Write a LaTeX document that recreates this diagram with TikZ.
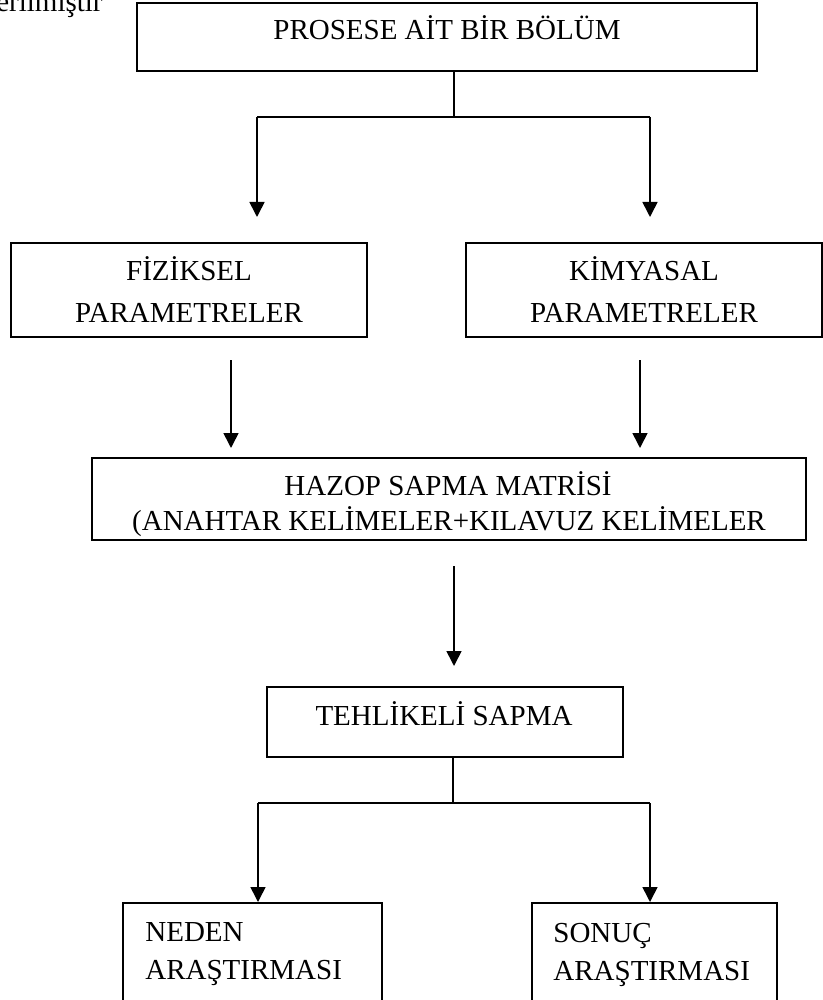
\documentclass[tikz,border=0pt]{standalone}
\usepackage{fontspec}
\setmainfont{Liberation Serif}
\usetikzlibrary{arrows.meta}
\begin{document}
\begin{tikzpicture}[x=0.5pt,y=-0.5pt,
  box/.style={draw, line width=1pt, inner sep=0pt},
  lbl/.style={font=\fontsize{14.5}{17}\selectfont, inner sep=0pt, anchor=base},
  conn/.style={line width=0.8pt},
  arr/.style={conn, -{Triangle[length=7.5pt,width=7.5pt]}}]
\useasboundingbox (0,0) rectangle (823,1000);
\clip (0,0) rectangle (823,1000);

% partial caption at top left
\node[lbl, anchor=base east] (cap) at (103,12) {erilmiştir};

% boxes
\node[box, minimum width=310pt, minimum height=34pt] (top) at (447,37) {};
\node[box, minimum width=178pt, minimum height=47pt] (fiz) at (189,290) {};
\node[box, minimum width=178pt, minimum height=47pt] (kim) at (644,290) {};
\node[box, minimum width=357pt, minimum height=41pt] (haz) at (449,499) {};
\node[box, minimum width=178pt, minimum height=35pt] (teh) at (445,722) {};
\node[box, minimum width=129.5pt, minimum height=53.5pt] (ned) at (252.5,956.5) {};
\node[box, minimum width=122.5pt, minimum height=53.5pt] (son) at (654.5,956.5) {};

% texts
\node[lbl] (toptxt) at (447,40) {PROSESE AİT BİR BÖLÜM};
\node[lbl] (fiz1) at (189,280) {FİZİKSEL};
\node[lbl] (fiz2) at (189,322) {PARAMETRELER};
\node[lbl] (kim1) at (644,280) {KİMYASAL};
\node[lbl] (kim2) at (644,322) {PARAMETRELER};
\node[lbl] (haz1) at (448,495) {HAZOP SAPMA MATRİSİ};
\node[lbl] (haz2) at (449,530) {(ANAHTAR KELİMELER+KILAVUZ KELİMELER};
\node[lbl] (teh1) at (444,725) {TEHLİKELİ SAPMA};
\node[lbl, anchor=base west] (ned1) at (145,941) {NEDEN};
\node[lbl, anchor=base west] (ned2) at (145,979) {ARAŞTIRMASI};
\node[lbl, anchor=base west] (son1) at (553,942) {SONUÇ};
\node[lbl, anchor=base west] (son2) at (553,980) {ARAŞTIRMASI};

% top split
\coordinate (j1) at (454,117);
\coordinate (j1l) at (257,117);
\coordinate (j1r) at (650,117);
\coordinate (t1l) at (257,217);
\coordinate (t1r) at (650,217);
\draw[conn] (top.south -| j1) -- (j1);
\draw[conn] (j1l) -- (j1r);
\draw[arr] (j1l) -- (t1l);
\draw[arr] (j1r) -- (t1r);

% parameter arrows
\coordinate (fs) at (231,360);
\coordinate (ft) at (231,448);
\coordinate (ks) at (640,360);
\coordinate (kt) at (640,448);
\draw[arr] (fs) -- (ft);
\draw[arr] (ks) -- (kt);

% main arrow
\coordinate (ms) at (454,566);
\coordinate (mt) at (454,666);
\draw[arr] (ms) -- (mt);

% bottom split
\coordinate (j2) at (453,803);
\coordinate (j2l) at (258,803);
\coordinate (j2r) at (650,803);
\draw[conn] (teh.south -| j2) -- (j2);
\draw[conn] (j2l) -- (j2r);
\draw[arr] (j2l) -- (j2l |- ned.north);
\draw[arr] (j2r) -- (j2r |- son.north);
\end{tikzpicture}
\end{document}
